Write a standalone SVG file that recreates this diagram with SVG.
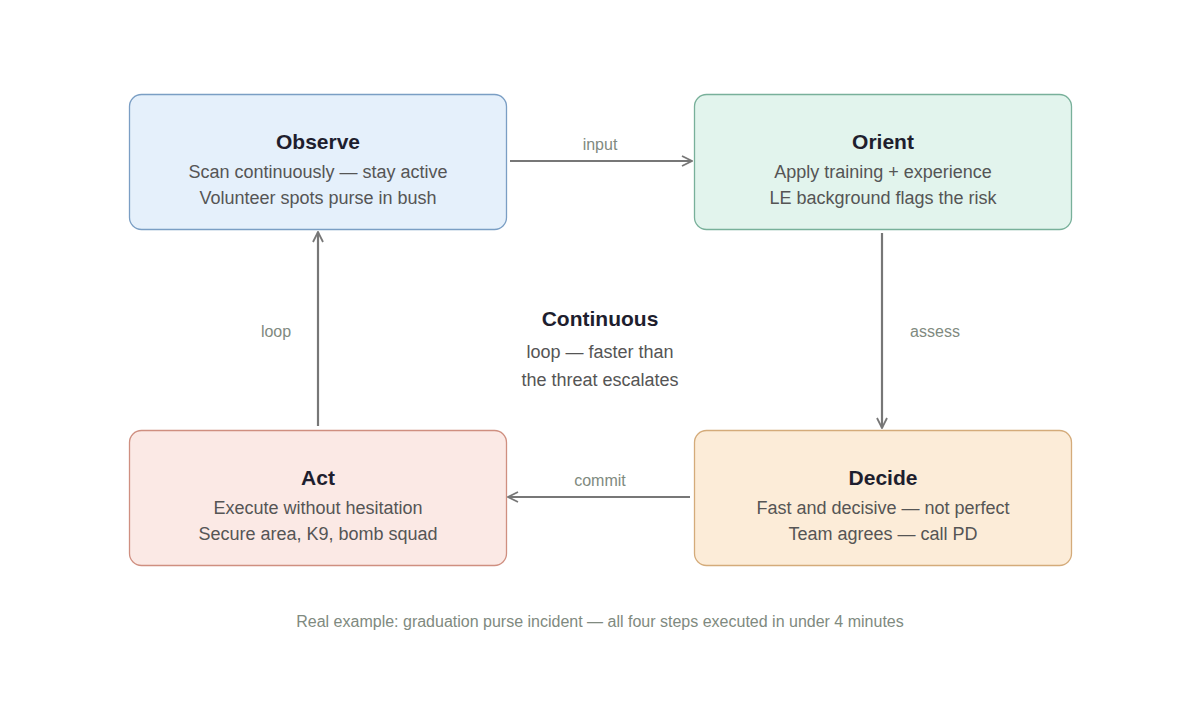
<svg xmlns="http://www.w3.org/2000/svg" width="1200" height="706" viewBox="0 0 1200 706">
<style>
.t{font-family:"Liberation Sans",Arial,sans-serif;text-anchor:middle}
.h{font-size:21px;font-weight:bold;fill:#1e1e2e}
.s{font-size:18px;fill:#555555}
.l{font-size:16px;fill:#808a80}
.c{stroke:#777;stroke-width:2.2;fill:none;marker-end:url(#a)}
</style>
<defs><marker id="a" viewBox="0 0 12 12" refX="11" refY="6" markerWidth="12" markerHeight="12" markerUnits="userSpaceOnUse" orient="auto"><path d="M1,1 L11,6 L1,11" fill="none" stroke="#777" stroke-width="1.8"/></marker></defs>
<rect width="1200" height="706" fill="#fff"/>
<g id="observe"><rect x="129.500" y="94.500" width="377" height="135" rx="12" fill="#e5f0fb" stroke="#7a9ec4" stroke-width="1.3"/>
<text class="t h" x="318" y="149">Observe</text><text class="t s" x="318" y="178">Scan continuously — stay active</text><text class="t s" x="318" y="204">Volunteer spots purse in bush</text></g>
<g id="orient"><rect x="694.500" y="94.500" width="377" height="135" rx="12" fill="#e2f4ed" stroke="#78b09a" stroke-width="1.3"/>
<text class="t h" x="883" y="149">Orient</text><text class="t s" x="883" y="178">Apply training + experience</text><text class="t s" x="883" y="204">LE background flags the risk</text></g>
<g id="decide"><rect x="694.500" y="430.500" width="377" height="135" rx="12" fill="#fcecd8" stroke="#d4ab7a" stroke-width="1.3"/>
<text class="t h" x="883" y="485">Decide</text><text class="t s" x="883" y="514">Fast and decisive — not perfect</text><text class="t s" x="883" y="540">Team agrees — call PD</text></g>
<g id="act"><rect x="129.500" y="430.500" width="377" height="135" rx="12" fill="#fbe9e5" stroke="#cf8f80" stroke-width="1.3"/>
<text class="t h" x="318" y="485">Act</text><text class="t s" x="318" y="514">Execute without hesitation</text><text class="t s" x="318" y="540">Secure area, K9, bomb squad</text></g>
<g id="connectors">
<path class="c" d="M510,161 H692"/><text class="t l" x="600" y="150">input</text>
<path class="c" d="M882,233 V428"/><text class="t l" x="935" y="337">assess</text>
<path class="c" d="M690,497 H508"/><text class="t l" x="600" y="486">commit</text>
<path class="c" d="M318,426 V232"/><text class="t l" x="276" y="337">loop</text>
</g>
<g id="center"><text class="t h" x="600" y="326">Continuous</text><text class="t s" x="600" y="358">loop — faster than</text><text class="t s" x="600" y="386">the threat escalates</text></g>
<text class="t l" x="600" y="627">Real example: graduation purse incident — all four steps executed in under 4 minutes</text>
</svg>
